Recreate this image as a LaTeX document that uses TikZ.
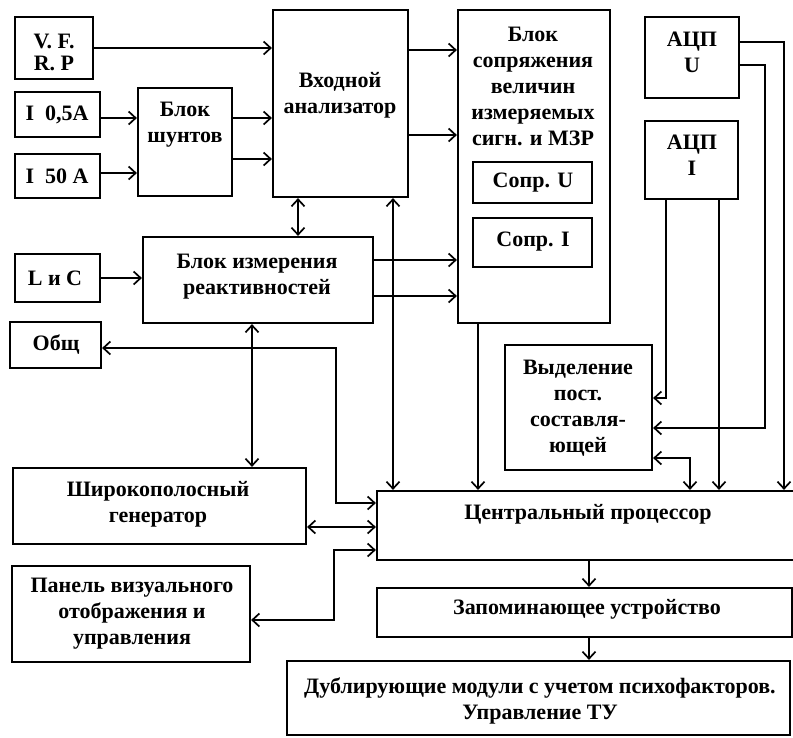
\documentclass[tikz,border=0pt]{standalone}
\usepackage{fontspec}
\setmainfont{Liberation Serif}
\usetikzlibrary{arrows.meta}
\begin{document}
\begin{tikzpicture}[x=1pt,y=-1pt,
  box/.style={draw=black,line width=2.2pt,rectangle,inner sep=0pt},
  lbl/.style={align=center,inner sep=0pt,font=\bfseries\fontsize{22}{26}\selectfont},
  conn/.style={line width=1.7pt,-{Straight Barb[length=7pt,width=13pt]}},
  bconn/.style={line width=1.7pt,{Straight Barb[length=7pt,width=13pt]}-{Straight Barb[length=7pt,width=13pt]}},
  line join=miter]
\useasboundingbox (0,0) rectangle (793,737);
\fill[white] (0,0) rectangle (793,737);
% boxes
\node[box,minimum width=78pt,minimum height=62pt] (vfrp) at (54,48) {};
\node[box,minimum width=85pt,minimum height=45pt] (i05) at (57.5,114.5) {};
\node[box,minimum width=85pt,minimum height=44pt] (i50) at (57.5,176) {};
\node[box,minimum width=94pt,minimum height=108pt] (shunt) at (185,142) {};
\node[box,minimum width=135pt,minimum height=187pt] (vin) at (340.5,103.5) {};
\node[box,minimum width=152pt,minimum height=313pt] (sopr) at (534,166.5) {};
\node[box,minimum width=119pt,minimum height=41pt] (soprU) at (532.5,182.5) {};
\node[box,minimum width=119pt,minimum height=49pt] (soprI) at (532.5,242.5) {};
\node[box,minimum width=94pt,minimum height=81pt] (adcU) at (692,57.5) {};
\node[box,minimum width=93pt,minimum height=78pt] (adcI) at (691.5,160) {};
\node[box,minimum width=230pt,minimum height=86pt] (react) at (258,280) {};
\node[box,minimum width=85pt,minimum height=48pt] (lc) at (57.5,278) {};
\node[box,minimum width=91pt,minimum height=46pt] (obsh) at (55.5,345) {};
\node[box,minimum width=147pt,minimum height=125pt] (dc) at (578.5,407.5) {};
\node[box,minimum width=293pt,minimum height=76pt] (gen) at (159.5,506) {};
\node[box,minimum width=238pt,minimum height=96pt] (panel) at (131,614) {};
\node[box,minimum width=418pt,minimum height=69pt] (cpu) at (586,525.5) {};
\node[box,minimum width=415pt,minimum height=49pt] (mem) at (584.5,612.5) {};
\node[box,minimum width=503pt,minimum height=74pt] (dup) at (538.5,698) {};
% labels
\node[lbl] (vfrp-t) at (54,52) {V. F.\\[-4pt]R. P};
\node[lbl] (i05-t) at (57,115) {I\ \ 0,5A};
\node[lbl] (i50-t) at (57,176) {I\ \ 50 A};
\node[lbl] (shunt-t) at (185,125) {Блок\\шунтов};
\node[lbl] (vin-t) at (340,95) {Входной\\анализатор};
\node[lbl] (sopr-t) at (533,86) {Блок\\сопряжения\\величин\\измеряемых\\сигн. и МЗР};
\node[lbl] (soprU-t) at (533,183) {Сопр. U};
\node[lbl] (soprI-t) at (533,242) {Сопр. I};
\node[lbl] (adcU-t) at (692,52) {АЦП\\U};
\node[lbl] (adcI-t) at (692,155) {АЦП\\I};
\node[lbl] (react-t) at (257,277) {Блок измерения\\реактивностей};
\node[lbl] (lc-t) at (55,278) {L и C};
\node[lbl] (obsh-t) at (56,345) {Общ};
\node[lbl] (dc-t) at (578,408) {Выделение\\пост.\\составля-\\ющей};
\node[lbl] (gen-t) at (158,504) {Широкополосный\\генератор};
\node[lbl] (panel-t) at (132,614) {Панель визуального\\отображения и\\управления};
\node[lbl] (cpu-t) at (588,514) {Центральный процессор};
\node[lbl] (mem-t) at (587,609) {Запоминающее устройство};
\node[lbl] (dup-t) at (540,701) {Дублирующие модули с учетом психофакторов.\\Управление ТУ};
% connectors
\draw[conn] (vfrp.east) -- (vfrp.east -| vin.west);
\draw[conn] ([yshift=-3.5pt]i05.east) -- ([yshift=-3.5pt]i05.east -| shunt.west);
\draw[conn] ([yshift=3pt]i50.east) -- ([yshift=3pt]i50.east -| shunt.west);
\draw[conn] ([yshift=24pt]shunt.east) -- ([yshift=24pt]shunt.east -| vin.west);
\draw[conn] ([yshift=-17pt]shunt.east) -- ([yshift=-17pt]shunt.east -| vin.west);
\draw[bconn] ([xshift=-42.5pt]vin.south) -- ([xshift=-42.5pt]vin.south |- react.north);
\draw[conn] (lc.east) -- (lc.east -| react.west);
\draw[conn] ([yshift=53.5pt]vin.east) -- ([yshift=53.5pt]vin.east -| sopr.west);
\draw[conn] ([yshift=-31.5pt]vin.east) -- ([yshift=-31.5pt]vin.east -| sopr.west);
\draw[conn] ([yshift=20pt]react.east) -- ([yshift=20pt]react.east -| sopr.west);
\draw[conn] ([yshift=-16pt]react.east) -- ([yshift=-16pt]react.east -| sopr.west);
\draw[bconn] ([xshift=52.5pt]vin.south) -- ([xshift=52.5pt]vin.south |- cpu.north);
\draw[conn] ([xshift=-56pt]sopr.south) -- ([xshift=-56pt]sopr.south |- cpu.north);
\draw[conn] ([yshift=15.5pt]adcU.east) -| ([xshift=198pt]cpu.north);
\draw[conn] ([yshift=-7.5pt]adcU.east) -- ++(25pt,0) |- ([yshift=-20.5pt]dc.east);
\draw[conn] ([xshift=-25.5pt]adcI.south) |- ([yshift=9.5pt]dc.east);
\draw[conn] ([xshift=27.5pt]adcI.south) -- ([xshift=27.5pt]adcI.south |- cpu.north);
\draw[bconn] ([yshift=-50.5pt]dc.east) -| ([xshift=104pt]cpu.north);
\draw[bconn] ([xshift=-6pt]react.south) -- ([xshift=-6pt]react.south |- gen.north);
\draw[bconn] ([yshift=-3pt]obsh.east) -- ++(234pt,0) |- ([yshift=22.5pt]cpu.west);
\draw[bconn] ([yshift=-21pt]gen.east) -- ([yshift=-21pt]gen.east -| cpu.west);
\draw[bconn] ([yshift=-24.5pt]cpu.west) -- ++(-42pt,0) |- ([yshift=-6pt]panel.east);
\draw[conn] ([xshift=3pt]cpu.south) -- ([xshift=3pt]cpu.south |- mem.north);
\draw[conn] ([xshift=4.5pt]mem.south) -- ([xshift=4.5pt]mem.south |- dup.north);
\end{tikzpicture}
\end{document}
